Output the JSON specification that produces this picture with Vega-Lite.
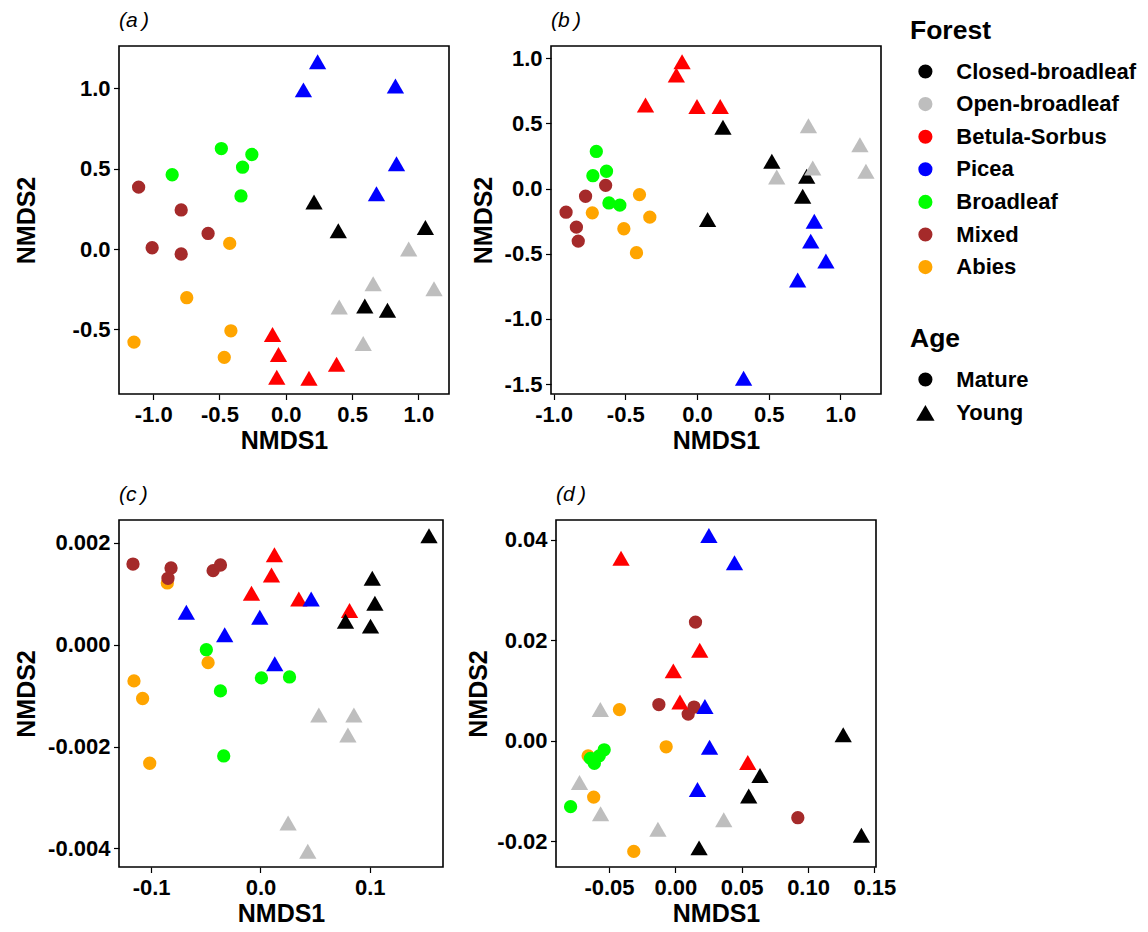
{
  "$schema": "https://vega.github.io/schema/vega-lite/v6.json",
  "padding": {"left": 13, "top": 8, "right": 5, "bottom": 0},
  "datasets": {
    "a": [
      {"Forest": "Abies", "Age": "Mature", "NMDS1": -0.423, "NMDS2": 0.035},
      {"Forest": "Abies", "Age": "Mature", "NMDS1": -0.747, "NMDS2": -0.303},
      {"Forest": "Abies", "Age": "Mature", "NMDS1": -0.414, "NMDS2": -0.509},
      {"Forest": "Abies", "Age": "Mature", "NMDS1": -1.145, "NMDS2": -0.579},
      {"Forest": "Abies", "Age": "Mature", "NMDS1": -0.464, "NMDS2": -0.674},
      {"Forest": "Mixed", "Age": "Mature", "NMDS1": -1.11, "NMDS2": 0.385},
      {"Forest": "Mixed", "Age": "Mature", "NMDS1": -0.789, "NMDS2": 0.243},
      {"Forest": "Mixed", "Age": "Mature", "NMDS1": -0.586, "NMDS2": 0.097},
      {"Forest": "Mixed", "Age": "Mature", "NMDS1": -1.008, "NMDS2": 0.008},
      {"Forest": "Mixed", "Age": "Mature", "NMDS1": -0.789, "NMDS2": -0.031},
      {"Forest": "Broadleaf", "Age": "Mature", "NMDS1": -0.486, "NMDS2": 0.625},
      {"Forest": "Broadleaf", "Age": "Mature", "NMDS1": -0.256, "NMDS2": 0.588},
      {"Forest": "Broadleaf", "Age": "Mature", "NMDS1": -0.326, "NMDS2": 0.509},
      {"Forest": "Broadleaf", "Age": "Mature", "NMDS1": -0.857, "NMDS2": 0.462},
      {"Forest": "Broadleaf", "Age": "Mature", "NMDS1": -0.338, "NMDS2": 0.33},
      {"Forest": "Betula-Sorbus", "Age": "Young", "NMDS1": -0.1, "NMDS2": -0.532},
      {"Forest": "Betula-Sorbus", "Age": "Young", "NMDS1": -0.055, "NMDS2": -0.656},
      {"Forest": "Betula-Sorbus", "Age": "Young", "NMDS1": -0.068, "NMDS2": -0.798},
      {"Forest": "Betula-Sorbus", "Age": "Young", "NMDS1": 0.175, "NMDS2": -0.804},
      {"Forest": "Betula-Sorbus", "Age": "Young", "NMDS1": 0.383, "NMDS2": -0.717},
      {"Forest": "Picea", "Age": "Young", "NMDS1": 0.24, "NMDS2": 1.165},
      {"Forest": "Picea", "Age": "Young", "NMDS1": 0.133, "NMDS2": 0.99},
      {"Forest": "Picea", "Age": "Young", "NMDS1": 0.827, "NMDS2": 1.014},
      {"Forest": "Picea", "Age": "Young", "NMDS1": 0.835, "NMDS2": 0.53},
      {"Forest": "Picea", "Age": "Young", "NMDS1": 0.684, "NMDS2": 0.344},
      {"Forest": "Closed-broadleaf", "Age": "Young", "NMDS1": 0.213, "NMDS2": 0.293},
      {"Forest": "Closed-broadleaf", "Age": "Young", "NMDS1": 0.396, "NMDS2": 0.113},
      {"Forest": "Closed-broadleaf", "Age": "Young", "NMDS1": 1.053, "NMDS2": 0.134},
      {"Forest": "Closed-broadleaf", "Age": "Young", "NMDS1": 0.596, "NMDS2": -0.355},
      {"Forest": "Closed-broadleaf", "Age": "Young", "NMDS1": 0.767, "NMDS2": -0.381},
      {"Forest": "Open-broadleaf", "Age": "Young", "NMDS1": 0.927, "NMDS2": 0.0},
      {"Forest": "Open-broadleaf", "Age": "Young", "NMDS1": 0.659, "NMDS2": -0.216},
      {"Forest": "Open-broadleaf", "Age": "Young", "NMDS1": 1.118, "NMDS2": -0.247},
      {"Forest": "Open-broadleaf", "Age": "Young", "NMDS1": 0.403, "NMDS2": -0.361},
      {"Forest": "Open-broadleaf", "Age": "Young", "NMDS1": 0.584, "NMDS2": -0.588}
    ],
    "b": [
      {"Forest": "Abies", "Age": "Mature", "NMDS1": -0.401, "NMDS2": -0.046},
      {"Forest": "Abies", "Age": "Mature", "NMDS1": -0.73, "NMDS2": -0.186},
      {"Forest": "Abies", "Age": "Mature", "NMDS1": -0.329, "NMDS2": -0.219},
      {"Forest": "Abies", "Age": "Mature", "NMDS1": -0.51, "NMDS2": -0.308},
      {"Forest": "Abies", "Age": "Mature", "NMDS1": -0.422, "NMDS2": -0.492},
      {"Forest": "Broadleaf", "Age": "Mature", "NMDS1": -0.702, "NMDS2": 0.285},
      {"Forest": "Broadleaf", "Age": "Mature", "NMDS1": -0.726, "NMDS2": 0.099},
      {"Forest": "Broadleaf", "Age": "Mature", "NMDS1": -0.631, "NMDS2": 0.133},
      {"Forest": "Broadleaf", "Age": "Mature", "NMDS1": -0.614, "NMDS2": -0.11},
      {"Forest": "Broadleaf", "Age": "Mature", "NMDS1": -0.538, "NMDS2": -0.127},
      {"Forest": "Mixed", "Age": "Mature", "NMDS1": -0.637, "NMDS2": 0.025},
      {"Forest": "Mixed", "Age": "Mature", "NMDS1": -0.777, "NMDS2": -0.059},
      {"Forest": "Mixed", "Age": "Mature", "NMDS1": -0.913, "NMDS2": -0.181},
      {"Forest": "Mixed", "Age": "Mature", "NMDS1": -0.841, "NMDS2": -0.296},
      {"Forest": "Mixed", "Age": "Mature", "NMDS1": -0.828, "NMDS2": -0.403},
      {"Forest": "Betula-Sorbus", "Age": "Young", "NMDS1": -0.104, "NMDS2": 0.973},
      {"Forest": "Betula-Sorbus", "Age": "Young", "NMDS1": -0.144, "NMDS2": 0.872},
      {"Forest": "Betula-Sorbus", "Age": "Young", "NMDS1": -0.359, "NMDS2": 0.642},
      {"Forest": "Betula-Sorbus", "Age": "Young", "NMDS1": 0.0, "NMDS2": 0.629},
      {"Forest": "Betula-Sorbus", "Age": "Young", "NMDS1": 0.162, "NMDS2": 0.629},
      {"Forest": "Picea", "Age": "Young", "NMDS1": 0.818, "NMDS2": -0.25},
      {"Forest": "Picea", "Age": "Young", "NMDS1": 0.793, "NMDS2": -0.403},
      {"Forest": "Picea", "Age": "Young", "NMDS1": 0.899, "NMDS2": -0.556},
      {"Forest": "Picea", "Age": "Young", "NMDS1": 0.702, "NMDS2": -0.701},
      {"Forest": "Picea", "Age": "Young", "NMDS1": 0.325, "NMDS2": -1.455},
      {"Forest": "Closed-broadleaf", "Age": "Young", "NMDS1": 0.181, "NMDS2": 0.471},
      {"Forest": "Closed-broadleaf", "Age": "Young", "NMDS1": 0.522, "NMDS2": 0.209},
      {"Forest": "Closed-broadleaf", "Age": "Young", "NMDS1": 0.765, "NMDS2": 0.094},
      {"Forest": "Closed-broadleaf", "Age": "Young", "NMDS1": 0.737, "NMDS2": -0.059},
      {"Forest": "Closed-broadleaf", "Age": "Young", "NMDS1": 0.074, "NMDS2": -0.237},
      {"Forest": "Open-broadleaf", "Age": "Young", "NMDS1": 0.777, "NMDS2": 0.482},
      {"Forest": "Open-broadleaf", "Age": "Young", "NMDS1": 1.136, "NMDS2": 0.336},
      {"Forest": "Open-broadleaf", "Age": "Young", "NMDS1": 0.807, "NMDS2": 0.158},
      {"Forest": "Open-broadleaf", "Age": "Young", "NMDS1": 1.178, "NMDS2": 0.133},
      {"Forest": "Open-broadleaf", "Age": "Young", "NMDS1": 0.556, "NMDS2": 0.089}
    ],
    "c": [
      {"Forest": "Abies", "Age": "Mature", "NMDS1": -0.0852, "NMDS2": 0.001213},
      {"Forest": "Abies", "Age": "Mature", "NMDS1": -0.0479, "NMDS2": -0.000352},
      {"Forest": "Abies", "Age": "Mature", "NMDS1": -0.1157, "NMDS2": -0.000711},
      {"Forest": "Abies", "Age": "Mature", "NMDS1": -0.1078, "NMDS2": -0.001057},
      {"Forest": "Abies", "Age": "Mature", "NMDS1": -0.1013, "NMDS2": -0.002329},
      {"Forest": "Mixed", "Age": "Mature", "NMDS1": -0.1166, "NMDS2": 0.001585},
      {"Forest": "Mixed", "Age": "Mature", "NMDS1": -0.0818, "NMDS2": 0.001507},
      {"Forest": "Mixed", "Age": "Mature", "NMDS1": -0.0846, "NMDS2": 0.001305},
      {"Forest": "Mixed", "Age": "Mature", "NMDS1": -0.0433, "NMDS2": 0.001455},
      {"Forest": "Mixed", "Age": "Mature", "NMDS1": -0.0366, "NMDS2": 0.001566},
      {"Forest": "Broadleaf", "Age": "Mature", "NMDS1": -0.0495, "NMDS2": -0.000098},
      {"Forest": "Broadleaf", "Age": "Mature", "NMDS1": 0.0009, "NMDS2": -0.000652},
      {"Forest": "Broadleaf", "Age": "Mature", "NMDS1": 0.0266, "NMDS2": -0.000633},
      {"Forest": "Broadleaf", "Age": "Mature", "NMDS1": -0.0366, "NMDS2": -0.000907},
      {"Forest": "Broadleaf", "Age": "Mature", "NMDS1": -0.0336, "NMDS2": -0.002185},
      {"Forest": "Betula-Sorbus", "Age": "Young", "NMDS1": 0.0128, "NMDS2": 0.001768},
      {"Forest": "Betula-Sorbus", "Age": "Young", "NMDS1": 0.0101, "NMDS2": 0.00137},
      {"Forest": "Betula-Sorbus", "Age": "Young", "NMDS1": -0.0082, "NMDS2": 0.001011},
      {"Forest": "Betula-Sorbus", "Age": "Young", "NMDS1": 0.0351, "NMDS2": 0.0009},
      {"Forest": "Betula-Sorbus", "Age": "Young", "NMDS1": 0.0815, "NMDS2": 0.000672},
      {"Forest": "Picea", "Age": "Young", "NMDS1": 0.0464, "NMDS2": 0.0009},
      {"Forest": "Picea", "Age": "Young", "NMDS1": -0.0678, "NMDS2": 0.000639},
      {"Forest": "Picea", "Age": "Young", "NMDS1": -0.0006, "NMDS2": 0.000541},
      {"Forest": "Picea", "Age": "Young", "NMDS1": -0.0327, "NMDS2": 0.000196},
      {"Forest": "Picea", "Age": "Young", "NMDS1": 0.0131, "NMDS2": -0.000372},
      {"Forest": "Closed-broadleaf", "Age": "Young", "NMDS1": 0.1542, "NMDS2": 0.00214},
      {"Forest": "Closed-broadleaf", "Age": "Young", "NMDS1": 0.1023, "NMDS2": 0.001305},
      {"Forest": "Closed-broadleaf", "Age": "Young", "NMDS1": 0.1047, "NMDS2": 0.000815},
      {"Forest": "Closed-broadleaf", "Age": "Young", "NMDS1": 0.1007, "NMDS2": 0.000365},
      {"Forest": "Closed-broadleaf", "Age": "Young", "NMDS1": 0.0778, "NMDS2": 0.000463},
      {"Forest": "Open-broadleaf", "Age": "Young", "NMDS1": 0.0534, "NMDS2": -0.001383},
      {"Forest": "Open-broadleaf", "Age": "Young", "NMDS1": 0.0855, "NMDS2": -0.001383},
      {"Forest": "Open-broadleaf", "Age": "Young", "NMDS1": 0.08, "NMDS2": -0.001774},
      {"Forest": "Open-broadleaf", "Age": "Young", "NMDS1": 0.0253, "NMDS2": -0.003503},
      {"Forest": "Open-broadleaf", "Age": "Young", "NMDS1": 0.0433, "NMDS2": -0.004057}
    ],
    "d": [
      {"Forest": "Abies", "Age": "Mature", "NMDS1": -0.0421, "NMDS2": 0.0062},
      {"Forest": "Abies", "Age": "Mature", "NMDS1": -0.0069, "NMDS2": -0.0012},
      {"Forest": "Abies", "Age": "Mature", "NMDS1": -0.0657, "NMDS2": -0.003},
      {"Forest": "Abies", "Age": "Mature", "NMDS1": -0.0615, "NMDS2": -0.0112},
      {"Forest": "Abies", "Age": "Mature", "NMDS1": -0.0313, "NMDS2": -0.022},
      {"Forest": "Mixed", "Age": "Mature", "NMDS1": 0.0152, "NMDS2": 0.0236},
      {"Forest": "Mixed", "Age": "Mature", "NMDS1": -0.0124, "NMDS2": 0.0072},
      {"Forest": "Mixed", "Age": "Mature", "NMDS1": 0.0141, "NMDS2": 0.0067},
      {"Forest": "Mixed", "Age": "Mature", "NMDS1": 0.0097, "NMDS2": 0.0053},
      {"Forest": "Mixed", "Age": "Mature", "NMDS1": 0.0923, "NMDS2": -0.0153},
      {"Forest": "Broadleaf", "Age": "Mature", "NMDS1": -0.0536, "NMDS2": -0.0018},
      {"Forest": "Broadleaf", "Age": "Mature", "NMDS1": -0.0573, "NMDS2": -0.003},
      {"Forest": "Broadleaf", "Age": "Mature", "NMDS1": -0.064, "NMDS2": -0.0035},
      {"Forest": "Broadleaf", "Age": "Mature", "NMDS1": -0.061, "NMDS2": -0.0045},
      {"Forest": "Broadleaf", "Age": "Mature", "NMDS1": -0.0789, "NMDS2": -0.0131},
      {"Forest": "Betula-Sorbus", "Age": "Young", "NMDS1": -0.0409, "NMDS2": 0.0363},
      {"Forest": "Betula-Sorbus", "Age": "Young", "NMDS1": 0.0184, "NMDS2": 0.018},
      {"Forest": "Betula-Sorbus", "Age": "Young", "NMDS1": -0.0015, "NMDS2": 0.0139},
      {"Forest": "Betula-Sorbus", "Age": "Young", "NMDS1": 0.0035, "NMDS2": 0.0077},
      {"Forest": "Betula-Sorbus", "Age": "Young", "NMDS1": 0.0546, "NMDS2": -0.0043},
      {"Forest": "Picea", "Age": "Young", "NMDS1": 0.0253, "NMDS2": 0.0408},
      {"Forest": "Picea", "Age": "Young", "NMDS1": 0.0446, "NMDS2": 0.0354},
      {"Forest": "Picea", "Age": "Young", "NMDS1": 0.0223, "NMDS2": 0.0068},
      {"Forest": "Picea", "Age": "Young", "NMDS1": 0.0258, "NMDS2": -0.0013},
      {"Forest": "Picea", "Age": "Young", "NMDS1": 0.0167, "NMDS2": -0.0097},
      {"Forest": "Closed-broadleaf", "Age": "Young", "NMDS1": 0.1265, "NMDS2": 0.0012},
      {"Forest": "Closed-broadleaf", "Age": "Young", "NMDS1": 0.0638, "NMDS2": -0.0069},
      {"Forest": "Closed-broadleaf", "Age": "Young", "NMDS1": 0.0553, "NMDS2": -0.011},
      {"Forest": "Closed-broadleaf", "Age": "Young", "NMDS1": 0.1402, "NMDS2": -0.0188},
      {"Forest": "Closed-broadleaf", "Age": "Young", "NMDS1": 0.0179, "NMDS2": -0.0213},
      {"Forest": "Open-broadleaf", "Age": "Young", "NMDS1": -0.0565, "NMDS2": 0.0062},
      {"Forest": "Open-broadleaf", "Age": "Young", "NMDS1": -0.0722, "NMDS2": -0.0083},
      {"Forest": "Open-broadleaf", "Age": "Young", "NMDS1": -0.0563, "NMDS2": -0.0145},
      {"Forest": "Open-broadleaf", "Age": "Young", "NMDS1": -0.0131, "NMDS2": -0.0176},
      {"Forest": "Open-broadleaf", "Age": "Young", "NMDS1": 0.0365, "NMDS2": -0.0157}
    ]
  },
  "vconcat": [
    {
      "hconcat": [
        {
          "width": 330, "height": 348,
          "title": "(a\u2009)",
          "data": {"name": "a"},
          "mark": {"type": "point", "filled": true, "opacity": 1, "strokeWidth": 0, "size": 177},
          "encoding": {
            "x": {"field": "NMDS1", "type": "quantitative", "scale": {"domain": [-1.258, 1.231], "nice": false, "zero": false},
                  "axis": {"title": "NMDS1", "values": [-1, -0.5, 0, 0.5, 1], "labelExpr": "replace(format(datum.value, '.1f'), '\u2212', '-')"}},
            "y": {"field": "NMDS2", "type": "quantitative", "scale": {"domain": [-0.902, 1.263], "nice": false, "zero": false},
                  "axis": {"title": "NMDS2", "values": [-0.5, 0, 0.5, 1], "minExtent": 80, "maxExtent": 80, "labelExpr": "replace(format(datum.value, '.1f'), '\u2212', '-')"}},
            "color": {"field": "Forest", "type": "nominal",
                      "scale": {"domain": ["Closed-broadleaf", "Open-broadleaf", "Betula-Sorbus", "Picea", "Broadleaf", "Mixed", "Abies"],
                                "range": ["#000000", "#BEBEBE", "#FF0000", "#0000FF", "#00FF00", "#A52A2A", "#FFA500"]},
                      "legend": {"title": "Forest", "orient": "none", "legendX": 791, "legendY": -28, "titlePadding": 16, "rowPadding": 10.6}},
            "shape": {"field": "Age", "type": "nominal", "scale": {"domain": ["Mature", "Young"], "range": ["circle", "M-1.3,1.125L1.3,1.125L0,-1.125Z"]},
                      "legend": {"title": "Age", "orient": "none", "legendX": 791, "legendY": 280, "titlePadding": 16, "rowPadding": 11.4}}
          }
        },
        {
          "width": 330, "height": 348,
          "title": "(b\u2009)",
          "data": {"name": "b"},
          "mark": {"type": "point", "filled": true, "opacity": 1, "strokeWidth": 0, "size": 177},
          "encoding": {
            "x": {"field": "NMDS1", "type": "quantitative", "scale": {"domain": [-1.018, 1.283], "nice": false, "zero": false},
                  "axis": {"title": "NMDS1", "values": [-1, -0.5, 0, 0.5, 1], "labelExpr": "replace(format(datum.value, '.1f'), '\u2212', '-')"}},
            "y": {"field": "NMDS2", "type": "quantitative", "scale": {"domain": [-1.576, 1.094], "nice": false, "zero": false},
                  "axis": {"title": "NMDS2", "values": [-1.5, -1, -0.5, 0, 0.5, 1], "minExtent": 55, "maxExtent": 55, "labelExpr": "replace(format(datum.value, '.1f'), '\u2212', '-')"}},
            "color": {"field": "Forest", "type": "nominal"},
            "shape": {"field": "Age", "type": "nominal"}
          }
        }
      ],
      "spacing": 20
    },
    {
      "hconcat": [
        {
          "width": 324, "height": 347,
          "title": "(c\u2009)",
          "data": {"name": "c"},
          "mark": {"type": "point", "filled": true, "opacity": 1, "strokeWidth": 0, "size": 177},
          "encoding": {
            "x": {"field": "NMDS1", "type": "quantitative", "scale": {"domain": [-0.1294, 0.167], "nice": false, "zero": false},
                  "axis": {"title": "NMDS1", "values": [-0.1, 0, 0.1], "labelExpr": "replace(format(datum.value, '.1f'), '\u2212', '-')"}},
            "y": {"field": "NMDS2", "type": "quantitative", "scale": {"domain": [-0.004367, 0.00245], "nice": false, "zero": false},
                  "axis": {"title": "NMDS2", "values": [-0.004, -0.002, 0, 0.002], "minExtent": 80, "maxExtent": 80, "labelExpr": "replace(format(datum.value, '.3f'), '\u2212', '-')"}},
            "color": {"field": "Forest", "type": "nominal"},
            "shape": {"field": "Age", "type": "nominal"}
          }
        },
        {
          "width": 320, "height": 347,
          "title": "(d\u2009)",
          "data": {"name": "d"},
          "mark": {"type": "point", "filled": true, "opacity": 1, "strokeWidth": 0, "size": 177},
          "encoding": {
            "x": {"field": "NMDS1", "type": "quantitative", "scale": {"domain": [-0.0899, 0.1512], "nice": false, "zero": false},
                  "axis": {"title": "NMDS1", "values": [-0.05, 0, 0.05, 0.1, 0.15], "labelExpr": "replace(format(datum.value, '.2f'), '\u2212', '-')"}},
            "y": {"field": "NMDS2", "type": "quantitative", "scale": {"domain": [-0.0251, 0.0439], "nice": false, "zero": false},
                  "axis": {"title": "NMDS2", "values": [-0.02, 0, 0.02, 0.04], "minExtent": 65, "maxExtent": 65, "labelExpr": "replace(format(datum.value, '.2f'), '\u2212', '-')"}},
            "color": {"field": "Forest", "type": "nominal"},
            "shape": {"field": "Age", "type": "nominal"}
          }
        }
      ],
      "spacing": 21
    }
  ],
  "spacing": 28,
  "config": {
    "font": "Liberation Sans",
    "view": {"stroke": "black", "strokeWidth": 1.6},
    "axis": {
      "grid": false, "domain": false,
      "tickColor": "black", "tickWidth": 1.2, "tickSize": 5.5,
      "labelFont": "Liberation Sans", "labelFontSize": 22, "labelFontWeight": "bold", "labelColor": "black",
      "labelFlush": false, "labelOverlap": false,
      "titleFont": "Liberation Sans", "titleFontSize": 25, "titleFontWeight": "bold", "titleColor": "black", "titlePadding": 0
    },
    "axisX": {"labelPadding": 5, "minExtent": 34, "maxExtent": 34},
    "axisY": {"labelPadding": 3.5},
    "title": {"anchor": "start", "frame": "group", "fontSize": 21, "fontStyle": "italic", "fontWeight": "normal", "color": "black", "offset": 15.5, "font": "Liberation Sans"},
    "legend": {
      "titleFont": "Liberation Sans", "titleFontSize": 26.5, "titleFontWeight": "bold", "titleColor": "black",
      "labelFont": "Liberation Sans", "labelFontSize": 22, "labelFontWeight": "bold", "labelColor": "black", "labelLimit": 400,
      "symbolSize": 200, "symbolStrokeWidth": 0, "symbolFillColor": "black",
      "symbolOffset": 4.4, "labelOffset": 19.9, "padding": 0
    }
  }
}
